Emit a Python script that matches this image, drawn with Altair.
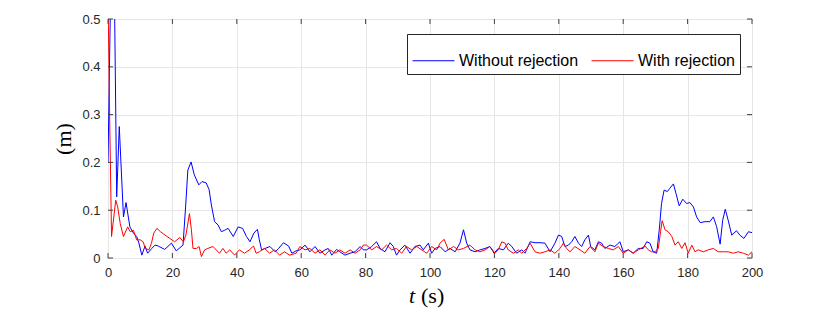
import altair as alt
import pandas as pd

# ---- data (t in s, value in m) ----
# Without rejection (blue)
t_blue_a = [0.0, 0.8, 2.0, 2.7, 3.5, 4.8, 5.6, 6.8, 7.9, 8.9, 9.6, 10.5, 11.5, 12.3, 13.6, 14.6, 15.6]
v_blue_a = [0.20, 0.55, 0.55, 0.128, 0.275, 0.086, 0.116, 0.065, 0.052, 0.045, 0.031, 0.006, 0.025, 0.010, 0.020, 0.027, 0.025]
t_blue_b = [17.6, 19.7, 21.2, 23.3, 24.1, 24.8, 25.8, 26.8, 28.2, 29.2, 30.5, 31.4, 32.1, 33.1, 34.2, 35.2, 36.2, 37.3,
            38.9, 40.4, 41.8, 43.0, 44.1, 45.3, 46.4, 47.0, 47.7, 48.8, 50.3, 51.9, 53.0, 54.5, 56.1, 57.1, 58.4]
v_blue_b = [0.018, 0.031, 0.015, 0.027, 0.107, 0.184, 0.201, 0.174, 0.153, 0.160, 0.157, 0.143, 0.111, 0.076, 0.069, 0.055,
            0.058, 0.062, 0.045, 0.065, 0.062, 0.045, 0.034, 0.052, 0.060, 0.038, 0.017, 0.020, 0.024, 0.013, 0.020, 0.032,
            0.025, 0.010, 0.015]
t_blue_c = [59.6, 61.2, 62.7, 64.3, 65.8, 67.4, 68.4, 69.5, 71.0, 72.0, 73.6, 75.2, 76.7, 78.3, 79.3, 80.3, 81.9, 83.4,
            84.5, 86.0, 87.6, 88.6, 89.6, 90.7, 92.2, 93.8, 95.3, 96.9, 97.9, 99.5, 100.5, 101.6, 103.1, 104.7, 106.2,
            107.8, 109.3, 110.4, 111.4, 112.4, 114.0, 115.5]
v_blue_c = [0.017, 0.027, 0.013, 0.024, 0.010, 0.017, 0.020, 0.006, 0.018, 0.013, 0.006, 0.010, 0.013, 0.024, 0.017,
            0.017, 0.024, 0.034, 0.020, 0.013, 0.032, 0.024, 0.006, 0.017, 0.027, 0.010, 0.024, 0.027, 0.017, 0.031,
            0.010, 0.020, 0.024, 0.013, 0.020, 0.013, 0.031, 0.059, 0.031, 0.017, 0.013, 0.017]
t_blue_d = [117.1, 118.6, 119.9, 121.2, 122.8, 124.3, 125.4, 126.9, 128.5, 129.5, 131.1, 132.6, 134.2, 135.7, 137.3,
            138.8, 139.9, 140.9, 141.9, 143.0, 144.0, 145.0, 146.1, 147.1, 148.1, 149.2, 149.9, 151.2, 152.3, 153.3,
            154.3, 155.9, 157.4, 159.0, 160.0, 161.6, 163.1, 164.7]
v_blue_d = [0.020, 0.024, 0.010, 0.020, 0.017, 0.031, 0.024, 0.010, 0.017, 0.010, 0.034, 0.032, 0.032, 0.031, 0.013,
            0.031, 0.048, 0.045, 0.024, 0.027, 0.034, 0.045, 0.031, 0.024, 0.038, 0.048, 0.024, 0.017, 0.034, 0.031,
            0.020, 0.027, 0.024, 0.034, 0.013, 0.017, 0.010, 0.020]
t_blue_e = [166.2, 167.3, 168.3, 169.3, 170.4, 171.2, 171.9, 172.7, 173.7, 174.5, 175.6, 176.4, 177.4, 178.5, 179.7,
            180.7, 181.8, 182.8, 183.9, 185.4, 186.9, 188.0, 189.0, 190.1, 190.9, 191.7, 192.6, 193.7, 195.2, 196.2,
            197.5, 198.9, 200.0]
v_blue_e = [0.020, 0.034, 0.031, 0.013, 0.010, 0.059, 0.114, 0.142, 0.139, 0.146, 0.155, 0.135, 0.109, 0.123, 0.114,
            0.116, 0.107, 0.086, 0.074, 0.076, 0.076, 0.086, 0.066, 0.029, 0.079, 0.102, 0.079, 0.048, 0.057, 0.048,
            0.041, 0.055, 0.053]

# With rejection (red)
t_red_a = [0.0, 0.5, 1.1, 2.4, 3.0, 3.8, 4.8, 6.1, 6.9, 7.9, 8.9, 10.0, 10.9, 11.6, 12.7, 13.5, 14.2, 15.2, 16.3]
v_red_a = [0.55, 0.30, 0.045, 0.121, 0.107, 0.072, 0.045, 0.065, 0.055, 0.058, 0.038, 0.038, 0.034, 0.020, 0.017,
           0.031, 0.052, 0.062, 0.055]
t_red_b = [17.7, 19.2, 20.7, 22.3, 23.4, 24.2, 25.3, 25.9, 26.4, 27.5, 28.3, 29.0, 30.0, 31.0, 32.6, 33.6, 34.6, 35.7,
           36.7, 37.8, 39.3, 40.8, 42.4, 43.9, 45.2, 46.0, 47.0, 48.6, 50.2, 51.7, 53.3, 54.8, 56.4, 58.4]
v_red_b = [0.048, 0.041, 0.034, 0.043, 0.034, 0.048, 0.093, 0.059, 0.020, 0.020, 0.024, 0.003, 0.017, 0.020, 0.024,
           0.017, 0.010, 0.020, 0.010, 0.017, 0.006, 0.017, 0.010, 0.017, 0.025, 0.010, 0.013, 0.020, 0.010, 0.017,
           0.006, 0.013, 0.006, 0.010]
t_red_c = [59.6, 61.2, 62.7, 64.3, 65.8, 67.4, 68.9, 70.5, 72.0, 73.6, 75.2, 76.7, 78.3, 79.3, 80.3, 81.9, 83.4, 85.0,
           86.5, 88.1, 89.6, 91.2, 92.7, 94.3, 95.9, 97.4, 99.0, 100.5, 102.1, 103.1, 104.4, 105.7, 107.3, 108.8,
           110.4, 112.4, 114.0, 115.5]
v_red_c = [0.024, 0.017, 0.020, 0.010, 0.017, 0.006, 0.017, 0.010, 0.017, 0.010, 0.017, 0.010, 0.017, 0.027, 0.027,
           0.017, 0.024, 0.017, 0.027, 0.017, 0.020, 0.010, 0.024, 0.017, 0.024, 0.017, 0.010, 0.024, 0.017, 0.031,
           0.039, 0.017, 0.024, 0.017, 0.020, 0.027, 0.017, 0.013]
t_red_d = [117.1, 118.6, 120.2, 121.2, 122.3, 123.3, 124.3, 125.9, 127.4, 128.5, 130.0, 131.1, 132.6, 134.2, 135.7,
           137.3, 138.8, 140.4, 141.4, 142.4, 143.5, 145.0, 146.6, 148.1, 149.7, 151.2, 152.3, 153.8, 155.4, 156.9,
           158.5, 160.0, 161.6, 163.1, 164.7]
v_red_d = [0.017, 0.024, 0.010, 0.017, 0.034, 0.031, 0.017, 0.010, 0.017, 0.010, 0.020, 0.031, 0.013, 0.010, 0.013,
           0.017, 0.010, 0.020, 0.031, 0.020, 0.013, 0.024, 0.017, 0.010, 0.024, 0.013, 0.031, 0.024, 0.020, 0.017,
           0.024, 0.010, 0.017, 0.010, 0.017]
t_red_e = [166.8, 167.8, 168.8, 169.9, 170.9, 171.6, 172.1, 173.0, 174.0, 175.1, 176.1, 177.1, 178.2, 179.2, 180.2,
           181.3, 182.3, 183.3, 184.9, 186.4, 188.0, 189.5, 191.1, 192.6, 194.2, 195.7, 197.3, 198.9, 200.0]
v_red_e = [0.025, 0.017, 0.013, 0.013, 0.020, 0.055, 0.078, 0.059, 0.055, 0.045, 0.027, 0.034, 0.020, 0.032, 0.010,
           0.027, 0.013, 0.017, 0.013, 0.017, 0.020, 0.013, 0.013, 0.013, 0.010, 0.013, 0.010, 0.006, 0.013]

series_names = ["Without rejection", "With rejection"]
series_colors = ["#0000ff", "#ff0000"]
x_ticks = [0, 20, 40, 60, 80, 100, 120, 140, 160, 180, 200]
y_ticks = [0, 0.1, 0.2, 0.3, 0.4, 0.5]

t_blue = t_blue_a + t_blue_b + t_blue_c + t_blue_d + t_blue_e
v_blue = v_blue_a + v_blue_b + v_blue_c + v_blue_d + v_blue_e
t_red = t_red_a + t_red_b + t_red_c + t_red_d + t_red_e
v_red = v_red_a + v_red_b + v_red_c + v_red_d + v_red_e

rows = [{"t": t, "v": v, "series": series_names[0]} for t, v in zip(t_blue, v_blue)]
rows += [{"t": t, "v": v, "series": series_names[1]} for t, v in zip(t_red, v_red)]
df = pd.DataFrame(rows)

W, H = 644, 239
LABEL_FONT = "Liberation Sans"
MATH_FONT = "Liberation Serif"

xscale = alt.Scale(domain=[0, 200], nice=False, zero=False)
yscale = alt.Scale(domain=[0, 0.5], nice=False)
cscale = alt.Scale(domain=series_names, range=series_colors)

x_axis = alt.Axis(values=x_ticks, title=None, grid=True, gridColor="#e6e6e6", ticks=False, tickSize=0,
                  domain=False, labelFont=LABEL_FONT, labelFontSize=13, labelColor="#262626", labelPadding=8,
                  labelFlush=False)
y_axis = alt.Axis(values=y_ticks, title="(m)", grid=True, gridColor="#e6e6e6", ticks=False, tickSize=0,
                  domain=False, labelFont=LABEL_FONT, labelFontSize=13, labelColor="#262626", labelPadding=8,
                  labelExpr="format(datum.value, '.1~f')", labelFlush=False,
                  titleFont=MATH_FONT, titleFontSize=22, titleFontWeight="normal", titleColor="#000000",
                  titleAngle=270, titleX=-45, titleY=H / 2, titleAlign="center", titleBaseline="middle")

legend = alt.Legend(title=None, orient="none", legendX=299, legendY=15, direction="horizontal",
                    strokeColor="#262626", fillColor="white", padding=5, symbolType="stroke",
                    symbolSize=1764, symbolStrokeWidth=1, labelFont=LABEL_FONT, labelFontSize=16,
                    labelColor="#000000", columnPadding=10, labelOffset=4, cornerRadius=0)

X = alt.X("t:Q", scale=xscale, axis=x_axis)
Y = alt.Y("v:Q", scale=yscale, axis=y_axis)
C = alt.Color("series:N", scale=cscale, legend=legend)

base = alt.Chart(df)
blue = base.transform_filter(alt.datum.series == series_names[0]).mark_line(strokeWidth=1, clip=True).encode(
    x=X, y=Y, color=C)
red = base.transform_filter(alt.datum.series == series_names[1]).mark_line(strokeWidth=1, clip=True).encode(
    x=X, y=Y, color=C)

xt = alt.Chart(pd.DataFrame({"t": x_ticks}))
yt = alt.Chart(pd.DataFrame({"v": y_ticks}))
tick_style = dict(color="#404040", strokeWidth=1)
ticks_bottom = xt.mark_rule(**tick_style).encode(x=X, y=alt.value(H), y2=alt.value(H - 5))
ticks_top = xt.mark_rule(**tick_style).encode(x=X, y=alt.value(0), y2=alt.value(5))
ticks_left = yt.mark_rule(**tick_style).encode(y=Y, x=alt.value(0), x2=alt.value(5))
ticks_right = yt.mark_rule(**tick_style).encode(y=Y, x=alt.value(W), x2=alt.value(W - 5))

one = alt.Chart(pd.DataFrame({"k": [0]}))
xlabel_t = one.mark_text(text="t", font=MATH_FONT, fontSize=22, fontStyle="italic", align="right",
                         baseline="alphabetic", color="#000000").encode(x=alt.value(307), y=alt.value(284))
xlabel_s = one.mark_text(text="(s)", font=MATH_FONT, fontSize=22, align="left",
                         baseline="alphabetic", color="#000000").encode(x=alt.value(313), y=alt.value(284))

chart = alt.layer(
    blue, red, ticks_bottom, ticks_top, ticks_left, ticks_right, xlabel_t, xlabel_s
).properties(
    width=W, height=H,
    autosize=alt.AutoSizeParams(type="none"),
    padding={"left": 100, "top": 11, "right": 62, "bottom": 54},
).configure_view(
    stroke="#808080", strokeWidth=1, fill="white"
).configure(
    background="white"
)

chart.save("out.html", embed_options={"renderer": "svg", "actions": False})
